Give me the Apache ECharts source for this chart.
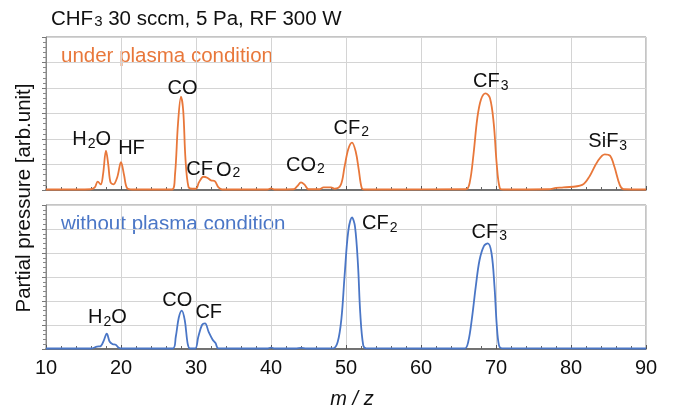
<!DOCTYPE html>
<html>
<head>
<meta charset="utf-8">
<script src="https://cdn.jsdelivr.net/npm/echarts@6/dist/echarts.min.js"></script>
<style>
  html, body { margin: 0; padding: 0; background: #fff; }
  #main { width: 675px; height: 410px; }
</style>
</head>
<body>
<div id="main"></div>
<script>
// mass spectra: [m/z, partial pressure (arb.)]
var underPlasma = [
  [10, 0.02], [14, 0.02], [16, 0.03], [16.5, 0.1], [16.9, 0.33], [17.3, 0.22], [17.6, 0.6],
  [18, 1.54], [18.3, 1.0], [18.6, 0.3], [19, 0.22], [19.5, 0.5], [20, 1.09], [20.4, 0.6],
  [20.8, 0.08], [21.5, 0.02], [26.8, 0.02], [27.2, 0.6], [27.6, 2.6], [28, 3.66], [28.3, 3.1],
  [28.6, 1.2], [29, 0.12], [29.5, 0.05], [30, 0.05], [30.4, 0.3], [31, 0.52], [31.5, 0.48],
  [32, 0.38], [32.5, 0.35], [33, 0.1], [33.5, 0.02], [39.5, 0.02], [40, 0.06], [40.5, 0.02],
  [43, 0.03], [43.5, 0.15], [44, 0.3], [44.5, 0.2], [45, 0.03], [46.5, 0.03], [47, 0.1],
  [48, 0.1], [48.5, 0.05], [49.3, 0.2], [49.8, 0.9], [50.3, 1.6], [50.8, 1.86], [51.3, 1.5],
  [51.7, 0.8], [52.1, 0.08], [52.5, 0.02], [66, 0.03], [66.5, 0.3], [67, 1.4], [67.5, 2.8],
  [68, 3.55], [68.6, 3.79], [69.2, 3.6], [69.7, 2.6], [70.1, 1.0], [70.5, 0.08], [71, 0.02],
  [77, 0.03], [78, 0.08], [79, 0.1], [81.5, 0.2], [82.5, 0.55], [83.5, 1.1], [84.5, 1.4],
  [85.2, 1.35], [85.8, 0.9], [86.5, 0.2], [87, 0.03], [90, 0.02]
];
var withoutPlasma = [
  [10, 0.02], [16, 0.02], [16.8, 0.1], [17.3, 0.12], [17.7, 0.35], [18.1, 0.64], [18.5, 0.3],
  [18.9, 0.2], [19.3, 0.18], [19.7, 0.05], [20.2, 0.02], [26.9, 0.02], [27.3, 0.5], [27.7, 1.3],
  [28.1, 1.6], [28.5, 1.2], [28.9, 0.2], [29.2, 0.02], [29.9, 0.02], [30.3, 0.5], [30.8, 1.0],
  [31.2, 1.07], [31.7, 0.7], [32.2, 0.4], [32.6, 0.25], [33, 0.03], [39.5, 0.02], [40, 0.06],
  [40.5, 0.02], [43.3, 0.02], [44, 0.05], [44.7, 0.02], [48.3, 0.03], [48.9, 0.3], [49.4, 1.3],
  [49.8, 3.0], [50.3, 4.9], [50.8, 5.48], [51.2, 5.1], [51.6, 3.5], [51.9, 1.5], [52.3, 0.15],
  [52.7, 0.03], [65.8, 0.02], [66.3, 0.3], [66.8, 1.3], [67.3, 2.6], [67.8, 3.7], [68.4, 4.3],
  [68.9, 4.4], [69.4, 4.0], [69.8, 2.6], [70.1, 1.0], [70.4, 0.15], [70.8, 0.03], [90, 0.02]
];

// peak names, anchored in data coords of each panel
var upperPeaks = [
  { text: '{n|H}{s|2}{n|O}', at: [16.1, 1.95] },
  { text: '{n|HF}', at: [21.4, 1.62] },
  { text: '{n|CO}', at: [28.2, 3.95] },
  { text: '{n|CF}{o|O}{s2|2}', at: [32.3, 0.8] },
  { text: '{n|CO}{s|2}', at: [44.6, 0.95] },
  { text: '{n|CF}{s|2}', at: [50.7, 2.4] },
  { text: '{n|CF}{s|3}', at: [69.3, 4.22] },
  { text: '{n|SiF}{s|3}', at: [84.9, 1.87] }
];
var lowerPeaks = [
  { text: '{n|H}{s|2}{n|O}', at: [18.2, 1.28] },
  { text: '{n|CO}', at: [27.5, 2.02] },
  { text: '{n|CF}', at: [31.7, 1.5] },
  { text: '{n|CF}{s|2}', at: [54.5, 5.2] },
  { text: '{n|CF}{s|3}', at: [69.1, 4.85] }
];

var FONT = '"Liberation Sans", Arial, sans-serif';
var ORANGE = '#e8773a';
var BLUE = '#4a76c6';
var INK = '#111';

var rich = {
  n: { fontSize: 20, fontFamily: FONT, color: INK, lineHeight: 21, verticalAlign: 'top' },
  s: { fontSize: 14, fontFamily: FONT, color: INK, lineHeight: 15, padding: [10, 0, 0, 1], verticalAlign: 'bottom' },
  o: { fontSize: 20, fontFamily: FONT, color: INK, lineHeight: 21, padding: [10, 0, 0, 3], verticalAlign: 'bottom' },
  s2: { fontSize: 14, fontFamily: FONT, color: INK, lineHeight: 15, padding: [17, 0, 0, 1], verticalAlign: 'bottom' }
};

function peakMarks(list) {
  return {
    silent: true,
    symbol: 'circle',
    symbolSize: 0,
    itemStyle: { color: 'transparent' },
    label: {
      show: true,
      position: 'inside',
      formatter: function (p) { return p.name; },
      rich: rich
    },
    data: list.map(function (d) { return { name: d.text, coord: d.at, value: 0 }; })
  };
}

function xAxisFor(grid, withLabels) {
  return {
    type: 'value', gridIndex: grid, min: 10, max: 90, interval: 10,
    axisLine: { show: true, lineStyle: { color: '#555', width: 1.5 } },
    axisTick: { show: true, inside: true, length: 4, lineStyle: { color: '#555' } },
    minorTick: { show: true, splitNumber: 5, length: 3, lineStyle: { color: '#666' } },
    splitLine: { show: true, lineStyle: { color: '#d4d4d4', width: 1 } },
    axisLabel: withLabels
      ? { show: true, fontSize: 20, fontFamily: FONT, color: INK, margin: 9 }
      : { show: false },
    name: withLabels ? 'm / z' : '',
    nameLocation: 'middle',
    nameGap: 40,
    nameTextStyle: { fontSize: 20, fontStyle: 'italic', fontFamily: FONT, color: INK, padding: [0, 0, 0, 12] }
  };
}

function yAxisFor(grid) {
  return {
    type: 'value', gridIndex: grid, min: 0, max: 6, interval: 1,
    axisLine: { show: true, lineStyle: { color: '#888' } },
    axisTick: { show: true, length: 4, lineStyle: { color: '#777' } },
    minorTick: { show: true, splitNumber: 5, length: 3, lineStyle: { color: '#888' } },
    splitLine: { show: true, lineStyle: { color: '#d4d4d4', width: 1 } },
    axisLabel: { show: false }
  };
}

var chart = echarts.init(document.getElementById('main'));
chart.setOption({
  animation: false,
  backgroundColor: '#fff',
  title: {
    text: '{a|CHF}{b|3}{a| 30 sccm, 5 Pa, RF 300 W}',
    left: 51, top: 9, padding: 0,
    textStyle: {
      fontWeight: 'normal',
      rich: {
        a: { fontSize: 20.5, fontWeight: 'normal', fontFamily: FONT, color: INK, verticalAlign: 'bottom', lineHeight: 21 },
        b: { fontSize: 15, fontWeight: 'normal', fontFamily: FONT, color: INK, verticalAlign: 'bottom', lineHeight: 16, padding: [0, 0, 1, 1] }
      }
    }
  },
  grid: [
    { left: 46, right: 29, top: 37, height: 153, show: true, borderColor: '#8a8a8a', borderWidth: 1 },
    { left: 46, right: 29, top: 205, height: 153, show: true, borderColor: '#8a8a8a', borderWidth: 1 }
  ],
  xAxis: [xAxisFor(0, false), xAxisFor(1, true)],
  yAxis: [yAxisFor(0), yAxisFor(1)],
  graphic: [
    { type: 'text', left: 61, top: 46, style: { text: 'under plasma condition', fontSize: 20.5, fontFamily: FONT, fill: ORANGE } },
    { type: 'text', left: 61, top: 214, style: { text: 'without plasma condition', fontSize: 20.5, fontFamily: FONT, fill: BLUE } },
    { type: 'text', x: 24, y: 198, rotation: Math.PI / 2,
      style: { text: 'Partial pressure [arb.unit]', fontSize: 20.5, fontFamily: FONT, fill: INK, align: 'center', verticalAlign: 'middle' } }
  ],
  series: [
    {
      type: 'line', xAxisIndex: 0, yAxisIndex: 0, data: underPlasma,
      smooth: 0.35, showSymbol: false, lineStyle: { color: ORANGE, width: 1.8 }, itemStyle: { color: ORANGE },
      markPoint: peakMarks(upperPeaks)
    },
    {
      type: 'line', xAxisIndex: 1, yAxisIndex: 1, data: withoutPlasma,
      smooth: 0.35, showSymbol: false, lineStyle: { color: BLUE, width: 1.8 }, itemStyle: { color: BLUE },
      markPoint: peakMarks(lowerPeaks)
    }
  ]
});
</script>
</body>
</html>
